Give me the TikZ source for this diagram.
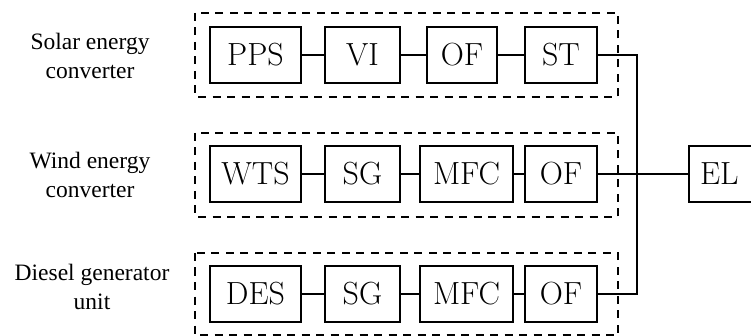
\documentclass[tikz,border=0pt]{standalone}
\usepackage{fontspec}
\newfontfamily\labelfont{Liberation Serif}
\begin{document}
\begin{tikzpicture}[x=1pt,y=-1pt,
  blk/.style={draw, line width=2.2pt, minimum height=56pt, inner sep=0pt,
    font=\fontsize{32}{32}\selectfont},
  group/.style={draw, line width=2.1pt, dash pattern=on 8pt off 6.5pt},
  link/.style={line width=2.3pt},
  bus/.style={line width=2.8pt},
  grouplabel/.style={align=center, font=\labelfont\fontsize{23.5}{29}\selectfont}]
\useasboundingbox (0,0) rectangle (751,336);

% dashed group frames
\draw[group] (195,13) rectangle (618,97);
\draw[group] (195,133) rectangle (618,217);
\draw[group] (195,253) rectangle (618,335);

% group labels
\node[grouplabel] (lsolar) at (90,56) {Solar energy\\converter};
\node[grouplabel] (lwind) at (90,175) {Wind energy\\converter};
\node[grouplabel] (ldiesel) at (92,287) {Diesel generator\\unit};

% solar chain
\node[blk, minimum width=91pt] (pps) at (255.5,55) {PPS};
\node[blk, minimum width=75pt] (vi) at (362.5,55) {VI};
\node[blk, minimum width=70pt] (of1) at (462,55) {OF};
\node[blk, minimum width=72pt] (st) at (561,55) {ST};

% wind chain
\node[blk, minimum width=91pt] (wts) at (255.5,174) {WTS};
\node[blk, minimum width=75pt] (sg1) at (362.5,174) {SG};
\node[blk, minimum width=93pt] (mfc1) at (466.5,174) {MFC};
\node[blk, minimum width=72pt] (of2) at (561,174) {OF};

% diesel chain
\node[blk, minimum width=91pt] (des) at (255.5,294) {DES};
\node[blk, minimum width=75pt] (sg2) at (362.5,294) {SG};
\node[blk, minimum width=93pt] (mfc2) at (466.5,294) {MFC};
\node[blk, minimum width=72pt] (of3) at (561,294) {OF};

% electrical load
\node[blk, minimum width=76pt, anchor=west, align=left, text width=70pt]
  (el) at (688,174) {\hspace{8pt}EL};

% links inside each chain
\draw[link] (pps) -- (vi);
\draw[link] (vi) -- (of1);
\draw[link] (of1) -- (st);
\draw[link] (wts) -- (sg1);
\draw[link] (sg1) -- (mfc1);
\draw[link] (mfc1) -- (of2);
\draw[link] (des) -- (sg2);
\draw[link] (sg2) -- (mfc2);
\draw[link] (mfc2) -- (of3);

% common bus to the load
\coordinate (bustop) at (637,55);
\coordinate (busmid) at (637,174);
\coordinate (busbot) at (637,294);
\draw[bus] (st.east) -- (bustop) -- (busbot) -- (of3.east);
\draw[bus] (of2.east) -- (busmid);
\draw[link] (busmid) -- (el.west);
\end{tikzpicture}
\end{document}
